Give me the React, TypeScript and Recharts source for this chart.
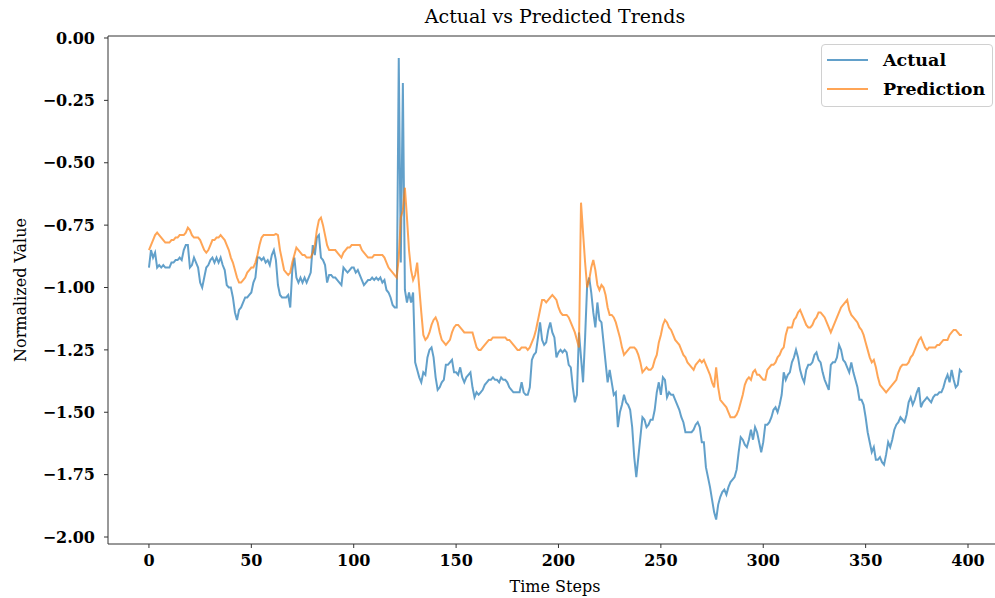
import React from "react";
import { LineChart, Line, XAxis, YAxis, Legend, ReferenceLine } from "recharts";

const actualValues: number[] = [
  -0.92, -0.85, -0.88, -0.86, -0.92, -0.91, -0.92, -0.91, -0.92, -0.92,
  -0.92, -0.90, -0.90, -0.89, -0.89, -0.88, -0.89, -0.85, -0.83, -0.83,
  -0.92, -0.91, -0.88, -0.90, -0.92, -0.98, -1.00, -0.96, -0.92, -0.91,
  -0.89, -0.88, -0.90, -0.88, -0.90, -0.88, -0.91, -0.93, -0.99, -1.00,
  -1.00, -1.04, -1.10, -1.13, -1.09, -1.08, -1.06, -1.04, -1.04, -1.03,
  -1.02, -0.98, -0.96, -0.88, -0.88, -0.89, -0.88, -0.90, -0.89, -0.91,
  -0.87, -0.85, -0.89, -0.99, -1.03, -1.04, -1.04, -1.04, -1.03, -1.08,
  -0.93, -0.88, -0.96, -0.98, -0.96, -0.98, -0.96, -0.98, -0.96, -0.94,
  -0.83, -0.87, -0.80, -0.79, -0.88, -0.89, -0.91, -0.98, -0.95, -0.95,
  -0.96, -0.96, -0.97, -0.98, -0.99, -0.92, -0.93, -0.94, -0.93, -0.92,
  -0.92, -0.94, -0.93, -0.95, -0.97, -0.99, -0.98, -0.97, -0.97, -0.96,
  -0.97, -0.96, -0.97, -0.96, -0.98, -0.97, -1.01, -1.02, -1.04, -1.07,
  -1.08, -1.08, -0.08, -0.90, -0.18, -1.01, -1.06, -1.02, -1.06, -1.02,
  -1.30, -1.33, -1.36, -1.38, -1.34, -1.35, -1.28, -1.25, -1.24, -1.28,
  -1.36, -1.41, -1.40, -1.38, -1.37, -1.31, -1.31, -1.30, -1.29, -1.34,
  -1.34, -1.35, -1.32, -1.36, -1.38, -1.36, -1.35, -1.34, -1.40, -1.44,
  -1.42, -1.43, -1.42, -1.41, -1.39, -1.38, -1.37, -1.37, -1.36, -1.37,
  -1.37, -1.38, -1.36, -1.37, -1.37, -1.38, -1.40, -1.41, -1.42, -1.42,
  -1.42, -1.42, -1.38, -1.42, -1.43, -1.43, -1.40, -1.29, -1.27, -1.26,
  -1.20, -1.14, -1.21, -1.23, -1.22, -1.17, -1.14, -1.18, -1.20, -1.28,
  -1.26, -1.25, -1.26, -1.25, -1.26, -1.31, -1.32, -1.40, -1.46, -1.43,
  -1.18, -1.28, -1.38, -1.20, -0.99, -0.96, -1.02, -1.10, -1.16, -1.06,
  -1.13, -1.14, -1.22, -1.30, -1.38, -1.33, -1.38, -1.43, -1.42, -1.56,
  -1.50, -1.47, -1.43, -1.46, -1.47, -1.49, -1.56, -1.68, -1.76, -1.68,
  -1.60, -1.52, -1.53, -1.56, -1.55, -1.53, -1.53, -1.49, -1.42, -1.38,
  -1.43, -1.36, -1.37, -1.44, -1.42, -1.43, -1.43, -1.45, -1.47, -1.49,
  -1.52, -1.54, -1.58, -1.58, -1.58, -1.58, -1.57, -1.55, -1.54, -1.56,
  -1.62, -1.62, -1.72, -1.76, -1.80, -1.85, -1.90, -1.93, -1.87, -1.84,
  -1.82, -1.81, -1.83, -1.80, -1.78, -1.77, -1.76, -1.73, -1.66, -1.60,
  -1.61, -1.63, -1.64, -1.61, -1.57, -1.61, -1.56, -1.58, -1.62, -1.66,
  -1.62, -1.55, -1.55, -1.54, -1.52, -1.49, -1.48, -1.50, -1.47, -1.43,
  -1.34, -1.37, -1.35, -1.34, -1.30, -1.28, -1.25, -1.28, -1.33, -1.36,
  -1.38, -1.33, -1.31, -1.31, -1.30, -1.27, -1.26, -1.29, -1.30, -1.34,
  -1.37, -1.39, -1.41, -1.31, -1.30, -1.30, -1.28, -1.23, -1.25, -1.29,
  -1.30, -1.32, -1.34, -1.30, -1.34, -1.37, -1.40, -1.45, -1.45, -1.47,
  -1.52, -1.58, -1.62, -1.66, -1.64, -1.69, -1.69, -1.68, -1.70, -1.71,
  -1.67, -1.62, -1.64, -1.61, -1.57, -1.55, -1.54, -1.52, -1.53, -1.54,
  -1.51, -1.46, -1.44, -1.47, -1.45, -1.42, -1.40, -1.48, -1.46, -1.45,
  -1.44, -1.45, -1.46, -1.44, -1.43, -1.43, -1.42, -1.42, -1.40, -1.37,
  -1.35, -1.38, -1.33, -1.37, -1.40, -1.39, -1.33, -1.34,
];

const predictionValues: number[] = [
  -0.85, -0.83, -0.81, -0.79, -0.78, -0.79, -0.80, -0.81, -0.82, -0.82,
  -0.82, -0.81, -0.81, -0.80, -0.80, -0.79, -0.79, -0.79, -0.78, -0.76,
  -0.77, -0.79, -0.80, -0.80, -0.80, -0.81, -0.83, -0.85, -0.86, -0.85,
  -0.83, -0.81, -0.81, -0.80, -0.80, -0.79, -0.80, -0.81, -0.83, -0.85,
  -0.88, -0.90, -0.93, -0.96, -0.98, -0.98, -0.97, -0.96, -0.94, -0.93,
  -0.92, -0.92, -0.90, -0.87, -0.83, -0.80, -0.79, -0.79, -0.79, -0.79,
  -0.79, -0.79, -0.785, -0.79, -0.85, -0.89, -0.93, -0.94, -0.95, -0.94,
  -0.90, -0.87, -0.84, -0.85, -0.86, -0.87, -0.87, -0.88, -0.88, -0.88,
  -0.86, -0.83, -0.77, -0.73, -0.72, -0.75, -0.79, -0.83, -0.85, -0.85,
  -0.85, -0.85, -0.86, -0.87, -0.88, -0.86, -0.85, -0.84, -0.84, -0.83,
  -0.83, -0.83, -0.83, -0.83, -0.85, -0.86, -0.87, -0.88, -0.88, -0.88,
  -0.87, -0.87, -0.87, -0.87, -0.87, -0.88, -0.90, -0.92, -0.93, -0.94,
  -0.95, -0.96, -0.88, -0.72, -0.69, -0.60, -0.72, -0.85, -0.93, -0.97,
  -0.95, -0.90, -1.00, -1.10, -1.19, -1.21, -1.20, -1.18, -1.15, -1.13,
  -1.12, -1.14, -1.18, -1.21, -1.22, -1.23, -1.22, -1.21, -1.18, -1.16,
  -1.15, -1.15, -1.16, -1.17, -1.18, -1.18, -1.18, -1.18, -1.18, -1.21,
  -1.24, -1.25, -1.25, -1.24, -1.23, -1.22, -1.21, -1.21, -1.20, -1.20,
  -1.20, -1.20, -1.20, -1.20, -1.20, -1.21, -1.21, -1.22, -1.23, -1.24,
  -1.25, -1.25, -1.24, -1.24, -1.24, -1.25, -1.24, -1.22, -1.20, -1.17,
  -1.13, -1.09, -1.05, -1.05, -1.06, -1.05, -1.04, -1.03, -1.04, -1.05,
  -1.08, -1.10, -1.11, -1.11, -1.11, -1.12, -1.14, -1.16, -1.18, -1.21,
  -1.24, -0.66, -0.78, -0.90, -1.00, -0.97, -0.92, -0.89, -0.93, -0.99,
  -1.01, -0.99, -1.00, -1.03, -1.08, -1.11, -1.11, -1.12, -1.14, -1.17,
  -1.20, -1.24, -1.27, -1.26, -1.25, -1.24, -1.24, -1.24, -1.25, -1.27,
  -1.30, -1.34, -1.33, -1.32, -1.33, -1.33, -1.32, -1.29, -1.27, -1.22,
  -1.19, -1.15, -1.13, -1.14, -1.16, -1.17, -1.19, -1.21, -1.22, -1.23,
  -1.25, -1.27, -1.28, -1.30, -1.31, -1.32, -1.33, -1.31, -1.30, -1.29,
  -1.30, -1.29, -1.31, -1.33, -1.35, -1.38, -1.40, -1.32, -1.40, -1.45,
  -1.46, -1.47, -1.48, -1.50, -1.52, -1.52, -1.52, -1.51, -1.49, -1.46,
  -1.43, -1.39, -1.37, -1.36, -1.37, -1.34, -1.33, -1.35, -1.35, -1.36,
  -1.37, -1.37, -1.33, -1.32, -1.31, -1.31, -1.30, -1.28, -1.27, -1.25,
  -1.24, -1.19, -1.16, -1.16, -1.16, -1.13, -1.12, -1.10, -1.09, -1.11,
  -1.13, -1.15, -1.16, -1.16, -1.15, -1.13, -1.12, -1.10, -1.10, -1.11,
  -1.12, -1.14, -1.16, -1.18, -1.16, -1.14, -1.12, -1.10, -1.08, -1.07,
  -1.06, -1.05, -1.09, -1.11, -1.12, -1.13, -1.14, -1.16, -1.17, -1.19,
  -1.22, -1.25, -1.28, -1.30, -1.29, -1.32, -1.36, -1.39, -1.40, -1.41,
  -1.42, -1.41, -1.40, -1.39, -1.38, -1.37, -1.34, -1.32, -1.31, -1.31,
  -1.31, -1.30, -1.28, -1.27, -1.25, -1.23, -1.21, -1.20, -1.22, -1.24,
  -1.25, -1.24, -1.24, -1.24, -1.24, -1.23, -1.23, -1.22, -1.21, -1.21,
  -1.21, -1.19, -1.18, -1.17, -1.17, -1.18, -1.19, -1.19,
];

const xTicks: number[] = [0, 50, 100, 150, 200, 250, 300, 350, 400];
const yTicks: number[] = [-2.0, -1.75, -1.5, -1.25, -1.0, -0.75, -0.5, -0.25, 0.0];
const seriesNames: string[] = ["Actual", "Prediction"];
const titleText = "Actual vs Predicted Trends";
const xLabelText = "Time Steps";
const yLabelText = "Normalized Value";

const BLUE = "#1f77b4";
const ORANGE = "#ff7f0e";
const SERIF = "'DejaVu Serif', serif";

const X_DOMAIN: [number, number] = [-20, 416.6];
const Y_DOMAIN: [number, number] = [-2.028, 0.008];

const data = actualValues.map((v, i) => ({
  step: i,
  actual: v,
  prediction: predictionValues[i],
}));

const fmtY = (v: number) => {
  const s = Math.abs(v).toFixed(2);
  return v < 0 ? "\u2212" + s : s;
};

const LegendBox = () => (
  <div
    style={{
      position: "absolute",
      left: 821,
      top: 44,
      width: 172,
      height: 63,
      border: "1px solid #d0d0d0",
      borderRadius: 4,
      background: "rgba(255,255,255,0.8)",
      boxSizing: "border-box",
      fontFamily: SERIF,
      fontWeight: "bold",
      fontSize: 17.5,
      color: "#000",
    }}
  >
    {seriesNames.map((name, i) => (
      <div
        key={name}
        style={{ position: "absolute", left: 5, top: 4 + i * 29, height: 22, display: "flex", alignItems: "center" }}
      >
        <div
          style={{
            width: 41,
            height: 2,
            background: i === 0 ? BLUE : ORANGE,
            opacity: 0.7,
            marginRight: 15,
          }}
        />
        <span>{name}</span>
      </div>
    ))}
  </div>
);

export default function App() {
  return (
    <div
      style={{
        position: "absolute",
        left: 0,
        top: 0,
        width: 995,
        height: 598,
        overflow: "hidden",
        background: "#fff",
      }}
    >
      <LineChart
        width={1002}
        height={598}
        data={data}
        margin={{ top: 36, right: 0, bottom: 0, left: 0 }}
      >
        <XAxis
          dataKey="step"
          type="number"
          domain={X_DOMAIN}
          ticks={xTicks}
          allowDataOverflow
          height={54}
          tickSize={4}
          tickMargin={7}
          stroke="#333"
          tick={{ fill: "#000", fontFamily: SERIF, fontWeight: "bold", fontSize: 16 }}
          tickLine={{ stroke: "#333" }}
        />
        <YAxis
          type="number"
          domain={Y_DOMAIN}
          ticks={yTicks}
          allowDataOverflow
          width={108}
          tickSize={4}
          tickMargin={9}
          stroke="#333"
          tickFormatter={fmtY}
          tick={{ fill: "#000", fontFamily: SERIF, fontWeight: "bold", fontSize: 16 }}
          tickLine={{ stroke: "#333" }}
        />
        <ReferenceLine y={Y_DOMAIN[1]} stroke="#333" strokeWidth={1} ifOverflow="extendDomain" />
        <Line
          type="linear"
          dataKey="actual"
          name={seriesNames[0]}
          stroke={BLUE}
          strokeOpacity={0.7}
          strokeWidth={2}
          dot={false}
          isAnimationActive={false}
        />
        <Line
          type="linear"
          dataKey="prediction"
          name={seriesNames[1]}
          stroke={ORANGE}
          strokeOpacity={0.7}
          strokeWidth={2}
          dot={false}
          isAnimationActive={false}
        />
        <Legend content={() => null} />
      </LineChart>
      <LegendBox />
      <div
        style={{
          position: "absolute",
          left: 0,
          width: 1110,
          top: 5,
          textAlign: "center",
          fontFamily: SERIF,
          fontSize: 19,
          color: "#000",
        }}
      >
        {titleText}
      </div>
      <div
        style={{
          position: "absolute",
          left: 0,
          width: 1110,
          top: 577,
          textAlign: "center",
          fontFamily: SERIF,
          fontSize: 16,
          color: "#000",
        }}
      >
        {xLabelText}
      </div>
      <div
        style={{
          position: "absolute",
          left: 20,
          top: 290,
          transform: "translate(-50%, -50%) rotate(-90deg)",
          whiteSpace: "nowrap",
          fontFamily: SERIF,
          fontSize: 16,
          color: "#000",
        }}
      >
        {yLabelText}
      </div>
    </div>
  );
}
